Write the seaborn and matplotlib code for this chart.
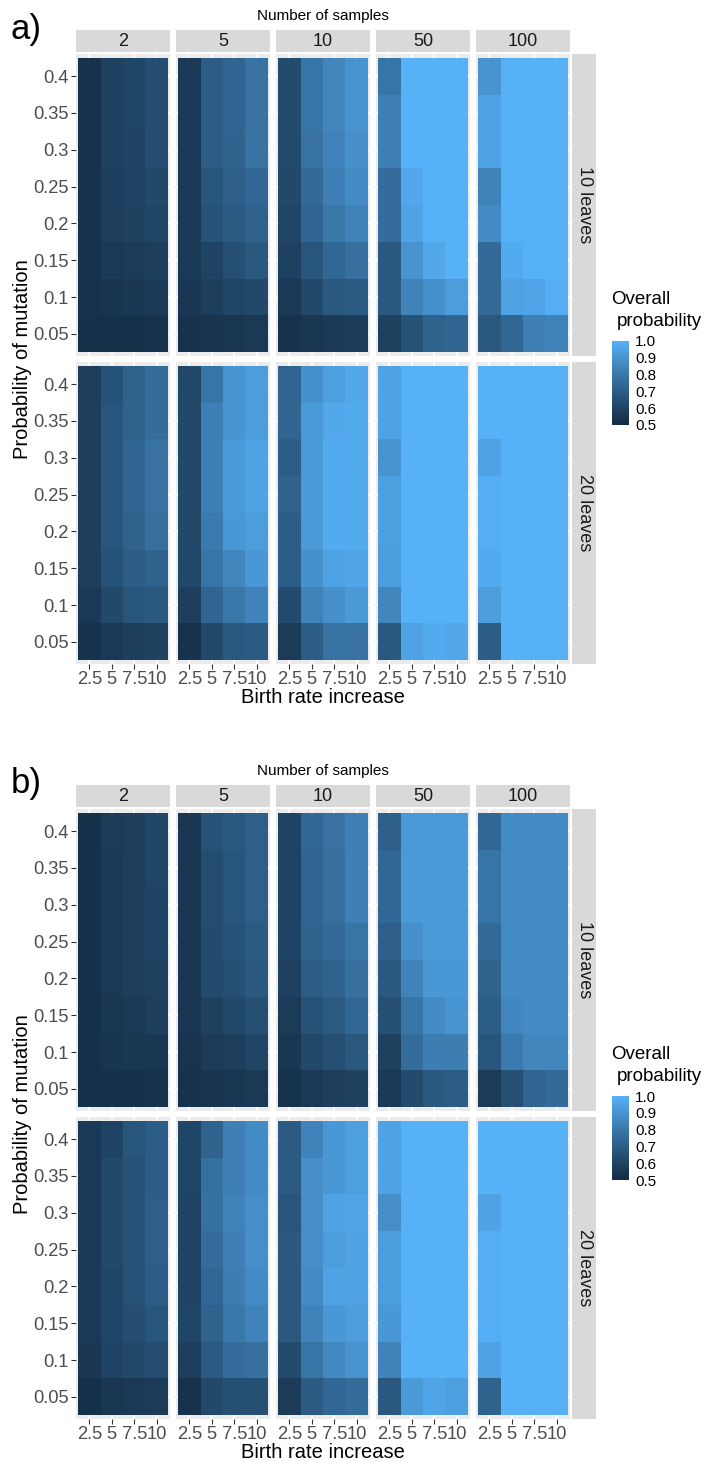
import numpy as np
import pandas as pd
import matplotlib
matplotlib.use("Agg")
import matplotlib.pyplot as plt
from matplotlib.colors import ListedColormap, Normalize
from matplotlib.cm import ScalarMappable
import seaborn as sns

# ---------------- data ----------------
BIRTH_RATE = ["2.5", "5", "7.5", "10"]
MUTATION = ["0.4", "0.35", "0.3", "0.25", "0.2", "0.15", "0.1", "0.05"]
SAMPLES = ["2", "5", "10", "50", "100"]
LEAVES = ["10 leaves", "20 leaves"]
LEGEND_TICKS = [0.5, 0.6, 0.7, 0.8, 0.9, 1.0]

# rows: mutation 0.4 -> 0.05 ; columns: birth rate 2.5, 5, 7.5, 10
a10_s2 = [[0.53, 0.59, 0.61, 0.64], [0.53, 0.59, 0.61, 0.64], [0.53, 0.59, 0.60, 0.64], [0.53, 0.58, 0.60, 0.62],
          [0.53, 0.58, 0.59, 0.61], [0.53, 0.56, 0.57, 0.58], [0.53, 0.54, 0.55, 0.56], [0.52, 0.52, 0.52, 0.53]]
a10_s5 = [[0.56, 0.70, 0.73, 0.78], [0.56, 0.70, 0.73, 0.78], [0.56, 0.70, 0.72, 0.78], [0.56, 0.67, 0.71, 0.74],
          [0.56, 0.66, 0.69, 0.72], [0.56, 0.60, 0.65, 0.68], [0.55, 0.58, 0.61, 0.62], [0.53, 0.54, 0.55, 0.56]]
a10_s10 = [[0.63, 0.79, 0.85, 0.90], [0.63, 0.79, 0.85, 0.90], [0.63, 0.78, 0.84, 0.89], [0.62, 0.75, 0.83, 0.87],
           [0.61, 0.73, 0.80, 0.84], [0.59, 0.67, 0.74, 0.77], [0.56, 0.62, 0.68, 0.69], [0.53, 0.55, 0.56, 0.57]]
a10_s50 = [[0.79, 1.00, 1.00, 1.00], [0.83, 1.00, 1.00, 1.00], [0.83, 1.00, 1.00, 1.00], [0.76, 0.97, 1.00, 1.00],
           [0.76, 0.95, 1.00, 1.00], [0.68, 0.90, 0.97, 1.00], [0.68, 0.84, 0.89, 0.93], [0.59, 0.66, 0.72, 0.73]]
a10_s100 = [[0.90, 1.00, 1.00, 1.00], [0.95, 1.00, 1.00, 1.00], [0.95, 1.00, 1.00, 1.00], [0.84, 1.00, 1.00, 1.00],
            [0.87, 1.00, 1.00, 1.00], [0.75, 0.98, 1.00, 1.00], [0.75, 0.95, 0.96, 0.99], [0.68, 0.74, 0.83, 0.84]]

a20_s2 = [[0.58, 0.66, 0.72, 0.76], [0.58, 0.67, 0.72, 0.76], [0.58, 0.67, 0.73, 0.78], [0.58, 0.67, 0.73, 0.78],
          [0.58, 0.67, 0.72, 0.77], [0.58, 0.66, 0.70, 0.72], [0.56, 0.62, 0.67, 0.68], [0.53, 0.56, 0.58, 0.59]]
a20_s5 = [[0.62, 0.79, 0.90, 0.93], [0.62, 0.83, 0.90, 0.93], [0.62, 0.83, 0.92, 0.95], [0.62, 0.83, 0.92, 0.95],
          [0.62, 0.81, 0.91, 0.93], [0.62, 0.79, 0.85, 0.91], [0.58, 0.73, 0.80, 0.84], [0.53, 0.62, 0.68, 0.69]]
a20_s10 = [[0.73, 0.89, 0.94, 0.97], [0.73, 0.92, 0.97, 0.98], [0.70, 0.92, 0.98, 0.98], [0.72, 0.92, 0.98, 0.98],
           [0.70, 0.92, 0.98, 0.98], [0.70, 0.89, 0.95, 0.96], [0.63, 0.84, 0.89, 0.92], [0.57, 0.70, 0.78, 0.78]]
a20_s50 = [[0.95, 1.00, 1.00, 1.00], [0.95, 1.00, 1.00, 1.00], [0.90, 1.00, 1.00, 1.00], [0.94, 1.00, 1.00, 1.00],
           [0.94, 1.00, 1.00, 1.00], [0.93, 1.00, 1.00, 1.00], [0.85, 1.00, 1.00, 1.00], [0.68, 0.95, 0.98, 0.97]]
a20_s100 = [[1.00, 1.00, 1.00, 1.00], [1.00, 1.00, 1.00, 1.00], [0.95, 1.00, 1.00, 1.00], [0.99, 1.00, 1.00, 1.00],
            [0.99, 1.00, 1.00, 1.00], [0.98, 1.00, 1.00, 1.00], [0.93, 1.00, 1.00, 1.00], [0.70, 1.00, 1.00, 1.00]]

b10_s2 = [[0.52, 0.57, 0.58, 0.61], [0.52, 0.56, 0.58, 0.61], [0.52, 0.56, 0.58, 0.60], [0.52, 0.56, 0.58, 0.60],
          [0.52, 0.56, 0.58, 0.59], [0.52, 0.55, 0.56, 0.58], [0.52, 0.54, 0.55, 0.55], [0.52, 0.52, 0.52, 0.53]]
b10_s5 = [[0.55, 0.66, 0.68, 0.71], [0.55, 0.64, 0.67, 0.71], [0.55, 0.64, 0.67, 0.71], [0.55, 0.63, 0.66, 0.69],
          [0.55, 0.63, 0.65, 0.68], [0.55, 0.59, 0.62, 0.65], [0.54, 0.57, 0.58, 0.61], [0.53, 0.54, 0.55, 0.56]]
b10_s10 = [[0.60, 0.74, 0.78, 0.83], [0.60, 0.73, 0.77, 0.83], [0.60, 0.73, 0.77, 0.83], [0.60, 0.72, 0.75, 0.79],
           [0.59, 0.70, 0.72, 0.77], [0.57, 0.66, 0.69, 0.74], [0.55, 0.62, 0.65, 0.68], [0.53, 0.56, 0.58, 0.59]]
b10_s50 = [[0.71, 0.92, 0.92, 0.92], [0.74, 0.92, 0.92, 0.92], [0.74, 0.92, 0.92, 0.92], [0.71, 0.89, 0.92, 0.92],
           [0.68, 0.84, 0.91, 0.91], [0.65, 0.79, 0.87, 0.90], [0.59, 0.76, 0.82, 0.82], [0.56, 0.63, 0.68, 0.70]]
b10_s100 = [[0.74, 0.87, 0.87, 0.87], [0.79, 0.87, 0.87, 0.87], [0.79, 0.87, 0.87, 0.87], [0.75, 0.87, 0.87, 0.87],
            [0.72, 0.87, 0.87, 0.87], [0.70, 0.85, 0.87, 0.87], [0.67, 0.81, 0.85, 0.85], [0.57, 0.65, 0.73, 0.75]]

b20_s2 = [[0.56, 0.60, 0.67, 0.70], [0.56, 0.62, 0.66, 0.70], [0.56, 0.62, 0.66, 0.71], [0.56, 0.62, 0.66, 0.71],
          [0.56, 0.61, 0.66, 0.70], [0.56, 0.61, 0.64, 0.67], [0.55, 0.60, 0.62, 0.64], [0.52, 0.55, 0.56, 0.57]]
b20_s5 = [[0.61, 0.72, 0.83, 0.87], [0.61, 0.77, 0.83, 0.87], [0.60, 0.77, 0.84, 0.88], [0.60, 0.76, 0.83, 0.88],
          [0.60, 0.74, 0.82, 0.87], [0.61, 0.72, 0.80, 0.84], [0.58, 0.69, 0.76, 0.77], [0.53, 0.62, 0.65, 0.65]]
b20_s10 = [[0.69, 0.84, 0.91, 0.94], [0.69, 0.88, 0.91, 0.94], [0.67, 0.88, 0.95, 0.96], [0.68, 0.88, 0.93, 0.95],
           [0.68, 0.87, 0.95, 0.95], [0.68, 0.84, 0.91, 0.93], [0.63, 0.79, 0.86, 0.90], [0.57, 0.69, 0.74, 0.76]]
b20_s50 = [[0.95, 1.00, 1.00, 1.00], [0.95, 1.00, 1.00, 1.00], [0.88, 1.00, 1.00, 1.00], [0.93, 1.00, 1.00, 1.00],
           [0.93, 1.00, 1.00, 1.00], [0.91, 1.00, 1.00, 1.00], [0.84, 1.00, 1.00, 1.00], [0.68, 0.92, 0.96, 0.94]]
b20_s100 = [[1.00, 1.00, 1.00, 1.00], [1.00, 1.00, 1.00, 1.00], [0.95, 1.00, 1.00, 1.00], [0.99, 1.00, 1.00, 1.00],
            [0.99, 1.00, 1.00, 1.00], [0.99, 1.00, 1.00, 1.00], [0.95, 1.00, 1.00, 1.00], [0.72, 1.00, 1.00, 1.00]]

PANELS = [
    ("a)", [[a10_s2, a10_s5, a10_s10, a10_s50, a10_s100],
            [a20_s2, a20_s5, a20_s10, a20_s50, a20_s100]]),
    ("b)", [[b10_s2, b10_s5, b10_s10, b10_s50, b10_s100],
            [b20_s2, b20_s5, b20_s10, b20_s50, b20_s100]]),
]

# ---------------- ggplot-like Lab gradient ----------------
def _hex(h):
    h = h.lstrip("#")
    return np.array([int(h[i:i + 2], 16) / 255 for i in (0, 2, 4)])

M = np.array([[0.4124564, 0.3575761, 0.1804375],
              [0.2126729, 0.7151522, 0.0721750],
              [0.0193339, 0.1191920, 0.9503041]])
WHITE = np.array([0.95047, 1.0, 1.08883])

def _to_lab(rgb):
    lin = np.where(rgb <= 0.04045, rgb / 12.92, ((rgb + 0.055) / 1.055) ** 2.4)
    xyz = M @ lin / WHITE
    d = 6 / 29
    f = np.where(xyz > d ** 3, np.cbrt(xyz), xyz / (3 * d * d) + 4 / 29)
    return np.array([116 * f[1] - 16, 500 * (f[0] - f[1]), 200 * (f[1] - f[2])])

def _from_lab(lab):
    d = 6 / 29
    fy_ = (lab[0] + 16) / 116
    fx_ = fy_ + lab[1] / 500
    fz_ = fy_ - lab[2] / 200
    f = np.array([fx_, fy_, fz_])
    xyz = np.where(f > d, f ** 3, 3 * d * d * (f - 4 / 29)) * WHITE
    lin = np.linalg.inv(M) @ xyz
    lin = np.clip(lin, 0, 1)
    rgb = np.where(lin <= 0.0031308, 12.92 * lin, 1.055 * lin ** (1 / 2.4) - 0.055)
    return np.clip(rgb, 0, 1)

lo, hi = _to_lab(_hex("#132B43")), _to_lab(_hex("#56B1F7"))
cmap = ListedColormap([_from_lab(lo + (hi - lo) * t) for t in np.linspace(0, 1, 256)])

# ---------------- figure ----------------
sns.set_theme(style="white")
plt.rcParams["font.family"] = ["Liberation Sans", "DejaVu Sans"]

W, H = 709, 1463
fig = plt.figure(figsize=(W / 100, H / 100), dpi=100)
fig.patch.set_facecolor("white")

def rect(x0, y0, x1, y1):
    return [x0 / W, 1 - y1 / H, (x1 - x0) / W, (y1 - y0) / H]

def fy(y):
    return 1 - y / H

FACET_X = [(76 + 100 * c, 170 + 100 * c) for c in range(5)]
ROW_Y = [(54, 356), (362, 664)]
STRIP_Y = (30, 52)
RSTRIP_X = (572, 596)
STRIP_COL = "#D9D9D9"
TICK_FS = 13.2

def strip_ax(r):
    ax = fig.add_axes(r)
    ax.set_facecolor(STRIP_COL)
    ax.set_xticks([])
    ax.set_yticks([])
    for s in ax.spines.values():
        s.set_visible(False)
    return ax

for p, (tag, grid) in enumerate(PANELS):
    dy = 755 * p
    fig.text(11 / W, fy(29 + dy), tag, fontsize=25, ha="left", va="center", color="black")
    fig.text(323 / W, fy(16 + dy), "Number of samples", fontsize=11, ha="center", va="center", color="black")

    for c, (x0, x1) in enumerate(FACET_X):
        sa = strip_ax(rect(x0, STRIP_Y[0] + dy, x1, STRIP_Y[1] + dy))
        sa.text(0.5, 0.5, SAMPLES[c], transform=sa.transAxes, ha="center", va="center",
                fontsize=13, color="#1A1A1A")

    for r, (y0, y1) in enumerate(ROW_Y):
        sa = strip_ax(rect(RSTRIP_X[0], y0 + dy, RSTRIP_X[1], y1 + dy))
        sa.text(0.5, 0.5, LEAVES[r], transform=sa.transAxes, ha="center", va="center",
                rotation=-90, fontsize=13, color="#1A1A1A")

        for c, (x0, x1) in enumerate(FACET_X):
            ax = fig.add_axes(rect(x0, y0 + dy, x1, y1 + dy))
            ax.set_facecolor("#EBEBEB")
            df = pd.DataFrame(grid[r][c], index=MUTATION, columns=BIRTH_RATE)
            sns.heatmap(df, ax=ax, cmap=cmap, vmin=0.5, vmax=1.0, cbar=False,
                        xticklabels=False, yticklabels=False, linewidths=0)
            ax.set_xlim(-0.1, 4.1)
            ax.set_ylim(8.1, -0.1)
            ax.set_xticks(np.arange(4) + 0.5)
            ax.set_yticks(np.arange(8) + 0.5)
            ax.grid(True, color="white", linewidth=1.1)
            ax.set_axisbelow(True)
            for s in ax.spines.values():
                s.set_visible(False)
            ax.set_xlabel("")
            ax.set_ylabel("")
            if r == 1:
                ax.set_xticklabels(BIRTH_RATE, rotation=0)
                ax.tick_params(axis="x", length=3.5, width=0.8, color="#333333",
                               labelsize=TICK_FS, labelcolor="#4D4D4D", pad=1.5, bottom=True)
            else:
                ax.set_xticklabels([])
                ax.tick_params(axis="x", length=0)
            if c == 0:
                ax.set_yticklabels(MUTATION, rotation=0)
                ax.tick_params(axis="y", length=3.5, width=0.8, color="#333333",
                               labelsize=TICK_FS, labelcolor="#4D4D4D", pad=1.5, left=True)
            else:
                ax.set_yticklabels([])
                ax.tick_params(axis="y", length=0)

    fig.text(323 / W, fy(697 + dy), "Birth rate increase", fontsize=14.5, ha="center", va="center", color="black")
    fig.text(23 / W, fy(359 + dy), "Probability of mutation", fontsize=14.5, ha="center", va="center",
             rotation=90, color="black")

    # legend
    fig.text(611 / W, fy(304 + dy), "Overall", fontsize=13.5, ha="left", va="baseline", color="black")
    fig.text(617 / W, fy(326 + dy), "probability", fontsize=13.5, ha="left", va="baseline", color="black")
    cax = fig.add_axes(rect(612, 341 + dy, 629, 425 + dy))
    sm = ScalarMappable(norm=Normalize(0.5, 1.0), cmap=cmap)
    cb = fig.colorbar(sm, cax=cax, ticks=LEGEND_TICKS)
    cb.outline.set_visible(False)
    cb.minorticks_off()
    cb.set_ticklabels([f"{t:.1f}" for t in LEGEND_TICKS])
    cax.tick_params(which="both", direction="in", color="white", length=3.4, width=0.8,
                    left=True, right=True, labelsize=11, labelcolor="black", pad=4.5)

fig.savefig("out.png", dpi=100, facecolor="white")
